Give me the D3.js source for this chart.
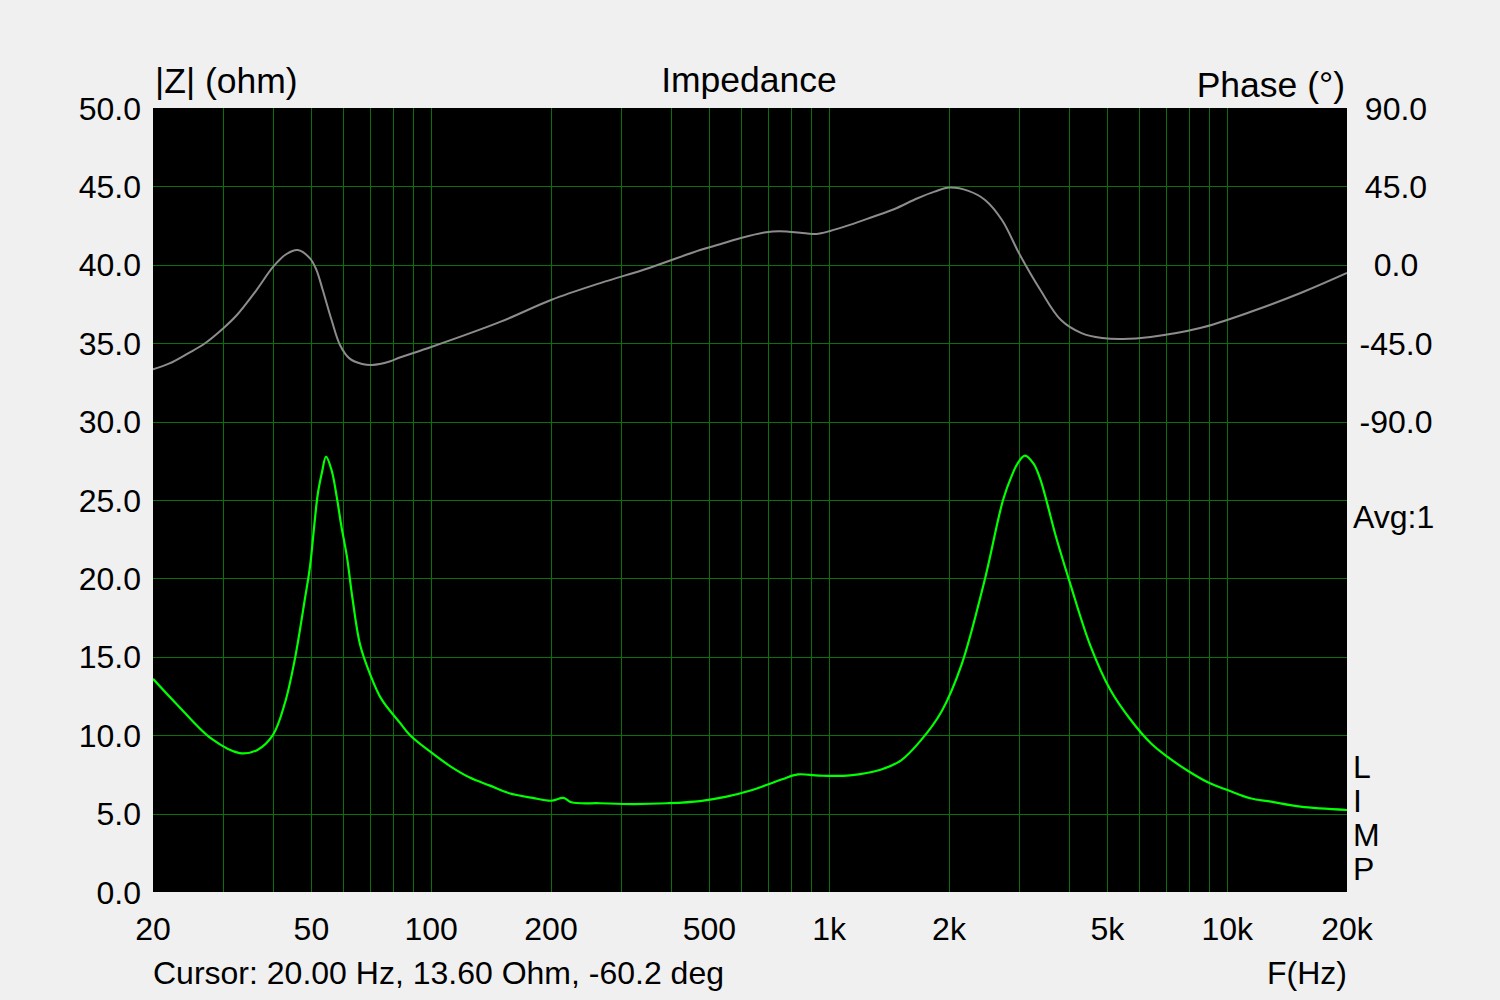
<!DOCTYPE html>
<html><head><meta charset="utf-8">
<script src="https://cdn.jsdelivr.net/npm/d3@7"></script>
<style>
html,body{margin:0;padding:0;background:#f0f0f0;}
text{font-family:"Liberation Sans",Arial,sans-serif;fill:#000;}
</style></head>
<body>
<svg id="chart" width="1500" height="1000"></svg>
<script>
// ---- data ----
const zFreq = [20,23.1,28.1,33.0,36.6,40.0,42.9,45.4,48.2,49.6,50.9,51.9,53.2,54.4,56.2,57.9,59.5,61.4,63.4,66.3,70.2,75,83.4,88.5,100,112,125,140,157,180,200,215,225,266,322,392,474,552,631,695,762,835,944,1127,1346,1516,1703,1914,2151,2464,2734,2881,2986,3104,3265,3394,3528,3700,4028,4525,5085,5713,6420,7068,8031,9052,10020,11420,12890,15290,20000];
const zOhm  = [13.6,11.9,9.76,8.86,9.06,10.0,12.05,14.8,18.75,20.75,23.5,25.4,26.8,27.76,26.9,25.2,23.3,21.4,18.75,15.75,13.9,12.3,10.8,10.0,8.9,8.0,7.3,6.8,6.3,6.0,5.82,6.0,5.72,5.66,5.61,5.66,5.8,6.08,6.46,6.82,7.19,7.5,7.42,7.44,7.8,8.4,9.7,11.5,14.5,20.0,25.0,26.6,27.4,27.83,27.3,26.3,24.8,22.8,19.7,15.75,12.9,11.0,9.5,8.63,7.67,6.93,6.5,5.98,5.76,5.44,5.23];
const pFreq = [20,22.0,24.5,26.8,30.0,32.5,36.4,40.1,43.3,46.2,49.6,51.5,53.4,56.2,59.0,62.3,67.1,71.1,78.6,83.4,100,149,200,266,353,474,532,597,695,750,872,928,1005,1127,1290,1455,1668,1839,2007,2237,2464,2717,3015,3394,3823,4305,4850,5460,6420,8550,11420,15290,20000];
const pDeg  = [-60.0,-56.6,-50.8,-45.6,-36.5,-28.8,-14.5,-1.1,6.2,8.5,3.7,-3.0,-14.5,-31.7,-46.0,-53.7,-56.9,-57.5,-55.5,-53.2,-47.2,-32.8,-20.2,-10.5,-1.8,8.5,11.8,15.2,18.7,19.2,18.1,17.7,19.4,22.9,27.6,31.9,38.2,42.0,44.3,42.4,37.2,25.7,5.6,-14.5,-31.7,-39.2,-42.0,-42.6,-41.4,-36.3,-27.1,-16.2,-4.7];
const xTickVals = [20,50,100,200,500,1000,2000,5000,10000,20000];
const xTickLabels = ["20","50","100","200","500","1k","2k","5k","10k","20k"];
const xGridVals = [30,40,50,60,70,80,90,100,200,300,400,500,600,700,800,900,1000,2000,3000,4000,5000,6000,7000,8000,9000,10000];
const zTicks = [0,5,10,15,20,25,30,35,40,45,50];
const pTicks = [90,45,0,-45,-90];
const sideLetters = ["L","I","M","P"];

// ---- layout ----
const L=153,R=1347,T=108,B=892;
const svg=d3.select("#chart");
const x=d3.scaleLog().domain([20,20000]).range([L,R]);
const yZ=d3.scaleLinear().domain([0,50]).range([B,T]);
const yP=d3.scaleLinear().domain([-360,90]).range([B,T]);

svg.append("rect").attr("x",L).attr("y",T).attr("width",R-L).attr("height",B-T).attr("fill","#000");
svg.append("clipPath").attr("id","clip").append("rect").attr("x",L).attr("y",T).attr("width",R-L).attr("height",B-T);

const grid=svg.append("g").attr("stroke","#0b720b").attr("stroke-width",1).attr("shape-rendering","crispEdges");
grid.selectAll("line.v").data(xGridVals).join("line").attr("class","v")
  .attr("x1",d=>Math.round(x(d))+0.5).attr("x2",d=>Math.round(x(d))+0.5).attr("y1",T).attr("y2",B);
grid.selectAll("line.h").data(zTicks.filter(d=>d>0&&d<50)).join("line").attr("class","h")
  .attr("y1",d=>Math.round(yZ(d))+0.5).attr("y2",d=>Math.round(yZ(d))+0.5).attr("x1",L).attr("x2",R);

const g=svg.append("g").attr("clip-path","url(#clip)");
const phaseLine=d3.line().x((d,i)=>x(pFreq[i])).y(d=>yP(d)).curve(d3.curveCatmullRom.alpha(0.5));
const zLine=d3.line().x((d,i)=>x(zFreq[i])).y(d=>yZ(d)).curve(d3.curveCatmullRom.alpha(0.5));
g.append("path").attr("d",phaseLine(pDeg)).attr("fill","none").attr("stroke","#8c8c8c").attr("stroke-width",2);
g.append("path").attr("d",zLine(zOhm)).attr("fill","none").attr("stroke","#00ff00").attr("stroke-width",2.2);

const fs=32, fsT=35.5;
// left axis labels
svg.append("g").selectAll("text").data(zTicks).join("text")
  .attr("x",141).attr("y",d=>yZ(d)).attr("dy","0.36em").attr("text-anchor","end")
  .attr("font-size",fs).text(d=>d.toFixed(1));
// right axis labels
svg.append("g").selectAll("text").data(pTicks).join("text")
  .attr("x",1396).attr("y",d=>yP(d)).attr("dy","0.36em").attr("text-anchor","middle")
  .attr("font-size",fs).text(d=>d.toFixed(1));
// x labels
svg.append("g").selectAll("text").data(xTickVals).join("text")
  .attr("x",d=>x(d)).attr("y",940).attr("text-anchor","middle")
  .attr("font-size",fs).text((d,i)=>xTickLabels[i]);

svg.append("text").attr("x",155).attr("y",93).attr("font-size",fsT).text("|Z| (ohm)");
svg.append("text").attr("x",749).attr("y",92).attr("text-anchor","middle").attr("font-size",fsT).text("Impedance");
svg.append("text").attr("x",1345).attr("y",97).attr("text-anchor","end").attr("font-size",fsT).text("Phase (°)");
svg.append("text").attr("x",1353).attr("y",528).attr("font-size",fs).text("Avg:1");
svg.append("g").selectAll("text").data(sideLetters).join("text")
  .attr("x",1353).attr("y",(d,i)=>778+i*34).attr("font-size",fs).text(d=>d);
svg.append("text").attr("x",153).attr("y",984).attr("font-size",fs).text("Cursor: 20.00 Hz, 13.60 Ohm, -60.2 deg");
svg.append("text").attr("x",1347).attr("y",984).attr("text-anchor","end").attr("font-size",fs).text("F(Hz)");
</script>
</body></html>
